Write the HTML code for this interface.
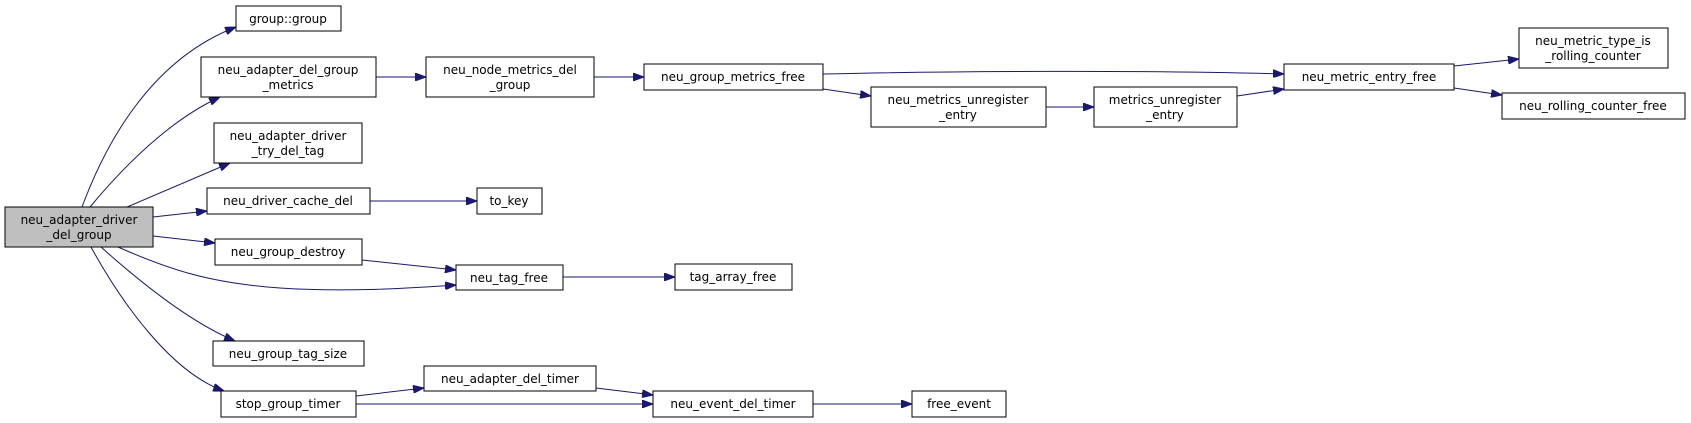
<!DOCTYPE html>
<html><head><meta charset="utf-8"><style>
html,body{margin:0;padding:0;background:#fff;}
svg{display:block;}
text{font-family:"DejaVu Sans","Liberation Sans",sans-serif;font-size:12px;fill:#000;text-anchor:middle;}
rect{fill:#fff;stroke:#000;stroke-width:1;}
path.e{fill:none;stroke:#191970;stroke-width:1;marker-end:url(#a);}
</style></head><body>
<svg width="1691" height="423" viewBox="0 0 1691 423" xmlns="http://www.w3.org/2000/svg">
<defs><marker id="a" markerUnits="userSpaceOnUse" markerWidth="11" markerHeight="8" refX="11" refY="4" orient="auto"><path d="M0,0 L11,4 L0,8 z" fill="#191970" stroke="#191970"/></marker></defs>

<path class="e" d="M82,207 C105,145 150,60 236,27"/>
<path class="e" d="M90,207 C125,165 170,120 220,97"/>
<path class="e" d="M127,207 L230,163"/>
<path class="e" d="M153,217 L207,211"/>
<path class="e" d="M153,236 L215,243"/>
<path class="e" d="M118,247 C170,270 210,283 280,288 C340,292 400,289 456,285"/>
<path class="e" d="M101,247 C140,282 190,322 235,341"/>
<path class="e" d="M91,247 C120,300 170,372 224,391"/>
<path class="e" d="M376,77 L426,77"/>
<path class="e" d="M594,77 L644,77"/>
<path class="e" d="M823,74 C950,71 1150,70 1284,74"/>
<path class="e" d="M823,89 L871,96"/>
<path class="e" d="M1046,107 L1094,107"/>
<path class="e" d="M1237,96 L1284,89"/>
<path class="e" d="M1454,66 L1519,59"/>
<path class="e" d="M1454,88 L1502,95"/>
<path class="e" d="M370,201 L477,201"/>
<path class="e" d="M362,260 L456,270"/>
<path class="e" d="M563,277 L675,277"/>
<path class="e" d="M356,396 L424,388"/>
<path class="e" d="M356,404 L653,404"/>
<path class="e" d="M596,388 L653,395"/>
<path class="e" d="M813,404 L912,404"/>

<rect x="5" y="207" width="148" height="40" style="fill:#bfbfbf"/>
<text x="79" y="224">neu_adapter_driver</text><text x="79" y="239">_del_group</text>

<rect x="236" y="6" width="105" height="25"/><text x="288" y="23">group::group</text>
<rect x="201" y="57" width="175" height="40"/><text x="288" y="74">neu_adapter_del_group</text><text x="288" y="89">_metrics</text>
<rect x="214" y="123" width="148" height="40"/><text x="288" y="140">neu_adapter_driver</text><text x="288" y="155">_try_del_tag</text>
<rect x="207" y="188" width="163" height="26"/><text x="288" y="205">neu_driver_cache_del</text>
<rect x="477" y="188" width="65" height="26"/><text x="509" y="205">to_key</text>
<rect x="215" y="239" width="147" height="26"/><text x="288" y="256">neu_group_destroy</text>
<rect x="456" y="265" width="107" height="25"/><text x="509" y="282">neu_tag_free</text>
<rect x="675" y="264" width="117" height="26"/><text x="733" y="281">tag_array_free</text>
<rect x="213" y="341" width="151" height="25"/><text x="288" y="358">neu_group_tag_size</text>
<rect x="424" y="366" width="172" height="25"/><text x="510" y="383">neu_adapter_del_timer</text>
<rect x="653" y="391" width="160" height="26"/><text x="733" y="408">neu_event_del_timer</text>
<rect x="912" y="391" width="94" height="26"/><text x="959" y="408">free_event</text>
<rect x="221" y="391" width="135" height="26"/><text x="288" y="408">stop_group_timer</text>
<rect x="426" y="57" width="168" height="40"/><text x="510" y="74">neu_node_metrics_del</text><text x="510" y="89">_group</text>
<rect x="644" y="64" width="179" height="26"/><text x="733" y="81">neu_group_metrics_free</text>
<rect x="871" y="87" width="175" height="40"/><text x="958" y="104">neu_metrics_unregister</text><text x="958" y="119">_entry</text>
<rect x="1094" y="87" width="143" height="40"/><text x="1165" y="104">metrics_unregister</text><text x="1165" y="119">_entry</text>
<rect x="1284" y="64" width="170" height="26"/><text x="1369" y="81">neu_metric_entry_free</text>
<rect x="1519" y="28" width="149" height="40"/><text x="1593" y="45">neu_metric_type_is</text><text x="1593" y="60">_rolling_counter</text>
<rect x="1502" y="93" width="183" height="26"/><text x="1593" y="110">neu_rolling_counter_free</text>
</svg>
</body></html>
